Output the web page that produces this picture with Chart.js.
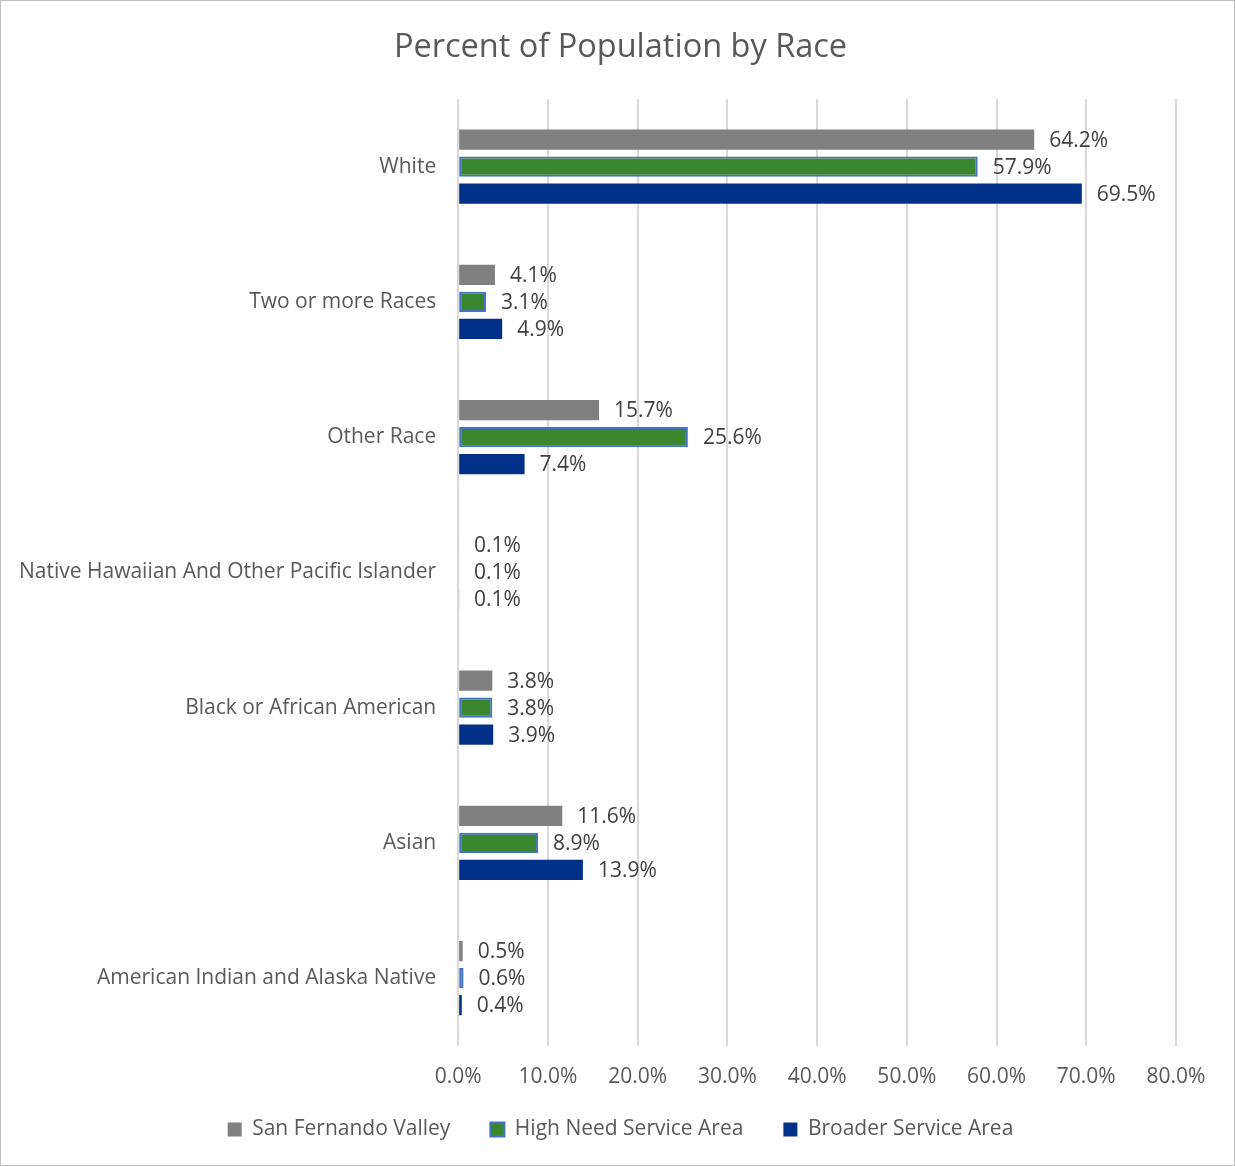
<!DOCTYPE html>
<html>
<head>
<meta charset="utf-8">
<script src="https://cdn.jsdelivr.net/npm/chart.js@4/dist/chart.umd.min.js"></script>
<style>
  html, body { margin: 0; padding: 0; background: #fff; }
  #wrap { width: 1233px; height: 1164px; border: 1px solid #bfbfbf; position: relative; }
</style>
</head>
<body>
<div id="wrap"><canvas id="barras"></canvas></div>
<script>
var razas = ['White', 'Two or more Races', 'Other Race', 'Native Hawaiian And Other Pacific Islander', 'Black or African American', 'Asian', 'American Indian and Alaska Native'];
var sanFernando = [64.2, 4.1, 15.7, 0.1, 3.8, 11.6, 0.5];
var altaNecesidad = [57.9, 3.1, 25.6, 0.1, 3.8, 8.9, 0.6];
var areaAmplia = [69.5, 4.9, 7.4, 0.1, 3.9, 13.9, 0.4];
var ticksX = [0, 10, 20, 30, 40, 50, 60, 70, 80];

var fuente = "'Open Sans', 'Noto Sans', sans-serif";
Chart.defaults.font.family = fuente;
Chart.defaults.color = '#595959';

// etiquetas de valor a la derecha de cada barra
var etiquetas = {
    id: 'etiquetas',
    afterDatasetsDraw: function (chart) {
        var ctx = chart.ctx;
        ctx.save();
        ctx.font = '21px ' + fuente;
        ctx.fillStyle = '#404040';
        ctx.textBaseline = 'middle';
        chart.data.datasets.forEach(function (ds, i) {
            chart.getDatasetMeta(i).data.forEach(function (bar, j) {
                ctx.fillText(ds.data[j].toFixed(1) + '%', bar.x + 15, bar.y + 1);
            });
        });
        ctx.restore();
    }
};

var data = {
    labels: razas,
    datasets: [{
        label: 'San Fernando Valley',
        data: sanFernando,
        backgroundColor: '#808080'
    }, {
        label: 'High Need Service Area',
        data: altaNecesidad,
        backgroundColor: '#3b8730',
        borderColor: '#4472c4',
        borderWidth: 2,
        borderSkipped: false
    }, {
        label: 'Broader Service Area',
        data: areaAmplia,
        backgroundColor: '#003087'
    }]
};

var options = {
    indexAxis: 'y',
    responsive: true,
    maintainAspectRatio: false,
    animation: false,
    layout: { padding: { left: 6, right: 0, top: 10, bottom: 15 } },
    datasets: { bar: { categoryPercentage: 0.6, barPercentage: 0.75 } },
    scales: {
        x: {
            min: 0,
            max: 80,
            afterBuildTicks: function (axis) {
                axis.ticks = ticksX.map(function (v) { return { value: v }; });
            },
            afterFit: function (axis) {
                axis.height -= 30;
                axis.paddingRight = 58;
                // sin recorte de las etiquetas al achicar el eje
                axis._computeLabelArea = function () { return undefined; };
            },
            ticks: {
                font: { size: 21 },
                color: '#595959',
                padding: 19,
                callback: function (v) { return v.toFixed(1) + '%'; }
            },
            grid: { color: '#d9d9d9', lineWidth: 2, drawTicks: false },
            border: { display: false }
        },
        y: {
            afterFit: function (axis) {
                axis.width -= 10;
            },
            ticks: { font: { size: 21 }, color: '#595959', padding: 22 },
            grid: { display: false, drawTicks: false },
            border: { display: false }
        }
    },
    plugins: {
        title: {
            display: true,
            text: 'Percent of Population by Race',
            font: { size: 32.5, weight: 'normal' },
            color: '#595959',
            padding: { top: 17, bottom: 32 }
        },
        legend: {
            position: 'bottom',
            labels: {
                font: { size: 21 },
                color: '#595959',
                boxWidth: 14,
                boxHeight: 14,
                padding: 40
            }
        },
        tooltip: { enabled: false }
    }
};

var ctx = document.getElementById('barras').getContext('2d');
var barras = new Chart(ctx, {
    type: 'bar',
    data: data,
    options: options,
    plugins: [etiquetas]
});
</script>
</body>
</html>
